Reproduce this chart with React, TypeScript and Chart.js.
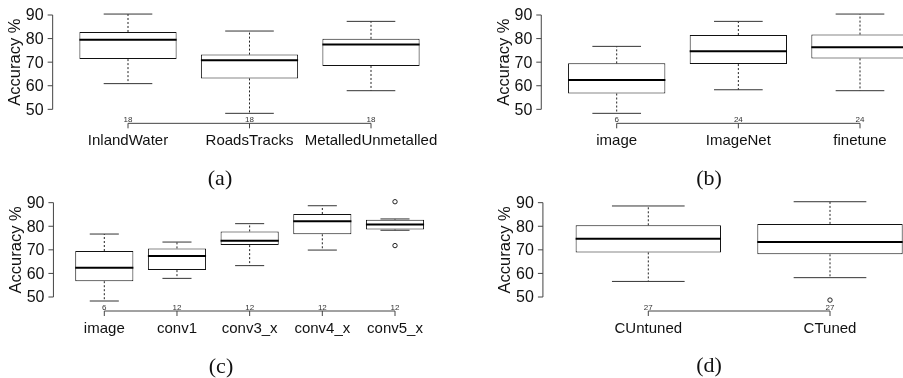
import React, { useEffect, useRef } from "react";
import { Chart, registerables } from "chart.js";
Chart.register(...registerables);

// ---------- data ----------
const yTicks = [50, 60, 70, 80, 90];

const catsA = ["InlandWater", "RoadsTracks", "MetalledUnmetalled"];
const lowA = [60.9, 48.3, 57.9];
const q1A = [71.3, 63.1, 68.4];
const medA = [79.5, 70.8, 77.5];
const q3A = [82.8, 73.2, 79.9];
const highA = [90.4, 83.2, 87.3];
const nA = [18, 18, 18];
const outA: { x: string; y: number }[] = [];

const catsB = ["image", "ImageNet", "finetune"];
const lowB = [48.3, 58.3, 57.9];
const q1B = [56.7, 69.2, 71.6];
const medB = [62.4, 74.6, 76.3];
const q3B = [69.5, 81.5, 81.7];
const highB = [76.7, 87.3, 90.4];
const nB = [6, 24, 24];
const outB: { x: string; y: number }[] = [];

const catsC = ["image", "conv1", "conv3_x", "conv4_x", "conv5_x"];
const lowC = [48.3, 57.9, 63.3, 69.9, 78.3];
const q1C = [56.7, 61.4, 72.0, 76.6, 78.6];
const medC = [62.4, 67.4, 73.9, 82.1, 80.7];
const q3C = [69.5, 70.6, 77.8, 85.2, 82.8];
const highC = [76.7, 73.3, 81.1, 88.7, 83.1];
const nC = [6, 12, 12, 12, 12];
const outC = [
  { x: "conv5_x", y: 90.4 },
  { x: "conv5_x", y: 71.8 },
];

const catsD = ["CUntuned", "CTuned"];
const lowD = [56.6, 58.2];
const q1D = [68.9, 68.1];
const medD = [74.7, 73.3];
const q3D = [80.4, 81.0];
const highD = [88.6, 90.4];
const nD = [27, 27];
const outD = [{ x: "CTuned", y: 48.7 }];

const yMin = 44;
const yMax = 92;
const SANS = "'Liberation Sans', Arial, Helvetica, sans-serif";
const SERIF = "'Liberation Serif', 'DejaVu Serif', serif";

type Panel = {
  cats: string[];
  low: number[];
  q1: number[];
  med: number[];
  q3: number[];
  high: number[];
  counts: number[];
  outliers: { x: string; y: number }[];
  caption: string;
  left: number;
  top: number;
  width: number;
  height: number;
  c0: number;
  c1: number;
  y50: number;
  y90: number;
  capX: number;
  capY: number;
};

const panels: Panel[] = [
  { cats: catsA, low: lowA, q1: q1A, med: medA, q3: q3A, high: highA, counts: nA, outliers: outA, caption: "(a)",
    left: 0, top: 0, width: 451, height: 190, c0: 128, c1: 371, y50: 109.33, y90: 15, capX: 220, capY: 179 },
  { cats: catsB, low: lowB, q1: q1B, med: medB, q3: q3B, high: highB, counts: nB, outliers: outB, caption: "(b)",
    left: 451, top: 0, width: 480, height: 190, c0: 165.7, c1: 409, y50: 109.33, y90: 15, capX: 258, capY: 179 },
  { cats: catsC, low: lowC, q1: q1C, med: medC, q3: q3C, high: highC, counts: nC, outliers: outC, caption: "(c)",
    left: 0, top: 190, width: 451, height: 188, c0: 104.3, c1: 395, y50: 107, y90: 12.67, capX: 221, capY: 177 },
  { cats: catsD, low: lowD, q1: q1D, med: medD, q3: q3D, high: highD, counts: nD, outliers: outD, caption: "(d)",
    left: 451, top: 190, width: 480, height: 188, c0: 197.3, c1: 379, y50: 107, y90: 12.67, capX: 258, capY: 176 },
];

function makePlugin(p: Panel) {
  return {
    id: "rbox",
    afterDatasetsDraw(chart: any) {
      const ctx: CanvasRenderingContext2D = chart.ctx;
      const xs = chart.scales.x;
      const ys = chart.scales.y;
      const n = p.cats.length;
      const sp = xs.getPixelForValue(1) - xs.getPixelForValue(0);
      const bw = sp * 0.8;
      ctx.save();
      // whiskers, caps, medians
      for (let i = 0; i < n; i++) {
        const cx = xs.getPixelForValue(i);
        const yl = ys.getPixelForValue(p.low[i]);
        const y1 = ys.getPixelForValue(p.q1[i]);
        const ym = ys.getPixelForValue(p.med[i]);
        const y3 = ys.getPixelForValue(p.q3[i]);
        const yh = ys.getPixelForValue(p.high[i]);
        ctx.strokeStyle = "#222";
        ctx.lineWidth = 1;
        ctx.setLineDash([2, 2]);
        ctx.beginPath();
        ctx.moveTo(cx, y3);
        ctx.lineTo(cx, yh);
        ctx.moveTo(cx, y1);
        ctx.lineTo(cx, yl);
        ctx.stroke();
        ctx.setLineDash([]);
        ctx.strokeStyle = "#333";
        ctx.beginPath();
        ctx.moveTo(cx - bw / 4, yh);
        ctx.lineTo(cx + bw / 4, yh);
        ctx.moveTo(cx - bw / 4, yl);
        ctx.lineTo(cx + bw / 4, yl);
        ctx.stroke();
        ctx.strokeStyle = "#000";
        ctx.lineWidth = 2;
        ctx.beginPath();
        ctx.moveTo(cx - bw / 2, ym);
        ctx.lineTo(cx + bw / 2, ym);
        ctx.stroke();
      }
      // y axis
      const ax = xs.getPixelForValue(0) - (0.5 + 0.04 * n) * sp;
      ctx.strokeStyle = "#444";
      ctx.lineWidth = 1;
      ctx.beginPath();
      ctx.moveTo(ax, ys.getPixelForValue(yTicks[0]));
      ctx.lineTo(ax, ys.getPixelForValue(yTicks[yTicks.length - 1]));
      for (const t of yTicks) {
        const y = ys.getPixelForValue(t);
        ctx.moveTo(ax, y);
        ctx.lineTo(ax - 5, y);
      }
      ctx.stroke();
      ctx.fillStyle = "#111";
      ctx.font = `16px ${SANS}`;
      ctx.textAlign = "right";
      ctx.textBaseline = "middle";
      for (const t of yTicks) {
        ctx.fillText(String(t), ax - 9, ys.getPixelForValue(t) + 1);
      }
      // y title
      ctx.save();
      ctx.translate(ax - 37, ys.getPixelForValue(70));
      ctx.rotate(-Math.PI / 2);
      ctx.font = `16.5px ${SANS}`;
      ctx.textAlign = "center";
      ctx.textBaseline = "middle";
      ctx.fillText("Accuracy %", 0, 0);
      ctx.restore();
      // x axis
      const ay = ys.getPixelForValue(50) + 14;
      const x0 = xs.getPixelForValue(0);
      const x1 = xs.getPixelForValue(n - 1);
      ctx.strokeStyle = "#444";
      ctx.beginPath();
      ctx.moveTo(x0, ay);
      ctx.lineTo(x1, ay);
      for (let i = 0; i < n; i++) {
        const cx = xs.getPixelForValue(i);
        ctx.moveTo(cx, ay);
        ctx.lineTo(cx, ay + 5);
      }
      ctx.stroke();
      ctx.textAlign = "center";
      ctx.textBaseline = "alphabetic";
      for (let i = 0; i < n; i++) {
        const cx = xs.getPixelForValue(i);
        ctx.font = `8px ${SANS}`;
        ctx.fillStyle = "#333";
        ctx.fillText(String(p.counts[i]), cx, ay - 1.5);
        ctx.font = `15px ${SANS}`;
        ctx.fillStyle = "#111";
        ctx.fillText(p.cats[i], cx, ay + 21.7);
      }
      // caption
      ctx.font = `22px ${SERIF}`;
      ctx.fillStyle = "#111";
      ctx.textBaseline = "middle";
      ctx.fillText(p.caption, p.capX, p.capY);
      ctx.restore();
    },
  };
}

function PanelChart({ p }: { p: Panel }) {
  const ref = useRef<HTMLCanvasElement>(null);
  useEffect(() => {
    const n = p.cats.length;
    const sp = (p.c1 - p.c0) / (n - 1);
    const ppu = (p.y50 - p.y90) / 40;
    const padTop = p.y90 - (yMax - 90) * ppu;
    const padBottom = p.height - (p.y50 + (50 - yMin) * ppu);
    const padLeft = p.c0 - sp / 2;
    const padRight = p.width - (p.c1 + sp / 2);
    const chart = new Chart(ref.current!, {
      type: "bar",
      data: {
        labels: p.cats,
        datasets: [
          {
            type: "bar",
            data: p.q1.map((v, i) => [v, p.q3[i]]) as any,
            backgroundColor: "#ffffff",
            borderColor: "#111",
            borderWidth: 1,
            borderSkipped: false,
            barPercentage: 0.8,
            categoryPercentage: 1,
          } as any,
          {
            type: "line",
            data: p.outliers as any,
            showLine: false,
            pointRadius: 2.2,
            pointBorderWidth: 1,
            pointBackgroundColor: "#fff",
            pointBorderColor: "#222",
          } as any,
        ],
      },
      options: {
        responsive: false,
        animation: false,
        layout: { padding: { left: padLeft, right: padRight, top: padTop, bottom: padBottom } },
        plugins: { legend: { display: false }, tooltip: { enabled: false } },
        scales: {
          x: { type: "category", display: false, offset: true },
          y: { type: "linear", display: false, min: yMin, max: yMax },
        },
      },
      plugins: [makePlugin(p)],
    });
    return () => chart.destroy();
  }, [p]);
  return (
    <canvas
      ref={ref}
      width={p.width}
      height={p.height}
      style={{ position: "absolute", left: p.left, top: p.top, width: p.width, height: p.height }}
    />
  );
}

export default function App() {
  return (
    <div
      style={{
        position: "fixed",
        left: 0,
        top: 0,
        width: 903,
        height: 378,
        overflow: "hidden",
        background: "#fff",
      }}
    >
      {panels.map((p, i) => (
        <PanelChart key={i} p={p} />
      ))}
    </div>
  );
}
